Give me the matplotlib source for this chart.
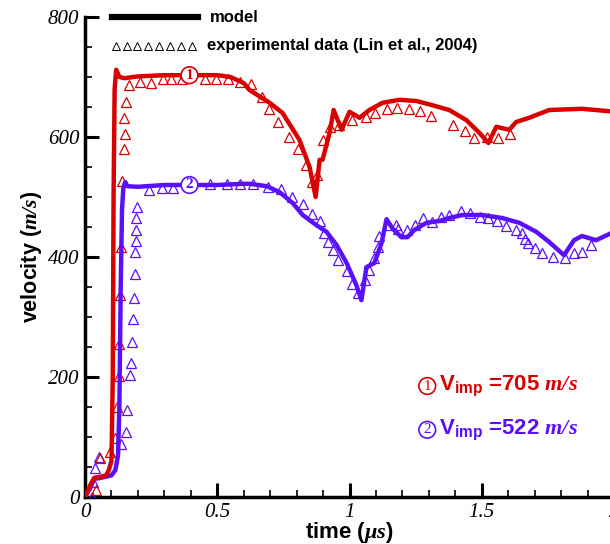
import matplotlib
matplotlib.use("Agg")
import matplotlib.pyplot as plt
from matplotlib.ticker import MultipleLocator

plt.rcParams['mathtext.fontset'] = 'custom'
plt.rcParams['mathtext.rm'] = 'Liberation Serif:italic:bold'
plt.rcParams['mathtext.it'] = 'Liberation Serif:italic:bold'
plt.rcParams['mathtext.bf'] = 'Liberation Sans:bold'
plt.rcParams['mathtext.default'] = 'it'

RED = '#D80000'
BLUE = '#5A10FF'

# model, case 1 (705 m/s)
t_model1 = [0, 0.02, 0.035, 0.06, 0.08, 0.09, 0.100, 0.105, 0.108, 0.112, 0.118, 0.13, 0.15,
            0.2, 0.3, 0.4, 0.5, 0.55, 0.6, 0.623, 0.698, 0.747, 0.811, 0.849, 0.872, 0.887,
            0.898, 0.925, 0.94, 0.97, 1.0, 1.038, 1.075, 1.125, 1.189, 1.253, 1.313, 1.377,
            1.442, 1.491, 1.525, 1.555, 1.604, 1.63, 1.679, 1.755, 1.879, 1.981, 2.0]
v_model1 = [0, 20, 32, 34, 36, 45, 60, 200, 500, 680, 712, 700, 698,
            701, 703, 703, 703, 700, 690, 678, 657, 640, 595, 550, 500, 562,
            562, 607, 645, 612, 642, 632, 645, 657, 662, 660, 653, 645,
            628, 607, 590, 617, 612, 625, 632, 645, 647, 643, 643]

# model, case 2 (522 m/s)
t_model2 = [0, 0.02, 0.035, 0.06, 0.1, 0.115, 0.125, 0.13, 0.135, 0.14, 0.145, 0.152, 0.16,
            0.2, 0.3, 0.4, 0.5, 0.6, 0.623, 0.687, 0.736, 0.785, 0.823, 0.875, 0.913, 0.951,
            0.989, 1.026, 1.045, 1.064, 1.094, 1.121, 1.14, 1.162, 1.196, 1.219, 1.245, 1.291,
            1.34, 1.377, 1.426, 1.502, 1.577, 1.642, 1.706, 1.755, 1.811, 1.849, 1.879, 1.932,
            1.981, 2.0]
v_model2 = [0, 15, 30, 32, 36, 45, 70, 150, 350, 480, 515, 525, 518,
            517, 520, 520, 520, 522, 522, 518, 508, 490, 470, 453, 442, 420,
            390, 353, 328, 383, 390, 423, 463, 448, 433, 433, 445, 457,
            460, 465, 470, 470, 465, 457, 442, 425, 403, 428, 435, 428,
            438, 442]

# experimental data, case 1
t_exp1 = [0.042, 0.057, 0.094, 0.113, 0.121, 0.128, 0.128, 0.132, 0.136, 0.140, 0.147, 0.151,
          0.147, 0.155, 0.166, 0.208, 0.249, 0.294, 0.325, 0.366, 0.453, 0.494, 0.540, 0.585,
          0.626, 0.668, 0.694, 0.728, 0.770, 0.804, 0.834, 0.857, 0.879, 0.898, 0.925, 0.962,
          1.011, 1.064, 1.098, 1.143, 1.181, 1.226, 1.268, 1.309, 1.392, 1.438, 1.472, 1.521,
          1.562, 1.608]
v_exp1 = [12, 65, 75, 98, 150, 202, 255, 337, 417, 527, 580, 605,
          632, 658, 686, 692, 690, 697, 697, 697, 697, 697, 697, 692,
          688, 667, 647, 625, 600, 580, 553, 525, 537, 595, 617, 620,
          628, 633, 640, 647, 648, 647, 643, 635, 620, 610, 598, 600,
          598, 605]

# experimental data, case 2
t_exp2 = [0.026, 0.030, 0.038, 0.053, 0.136, 0.155, 0.158, 0.170, 0.174, 0.177, 0.181, 0.185,
          0.189, 0.189, 0.192, 0.192, 0.192, 0.196, 0.242, 0.291, 0.332, 0.472, 0.536, 0.585,
          0.634, 0.691, 0.740, 0.781, 0.826, 0.857, 0.887, 0.902, 0.917, 0.936, 0.958, 0.989,
          1.008, 1.034, 1.057, 1.075, 1.094, 1.106, 1.113, 1.143, 1.177, 1.185, 1.219, 1.249,
          1.279, 1.313, 1.347, 1.377, 1.423, 1.457, 1.494, 1.525, 1.558, 1.592, 1.630, 1.653,
          1.664, 1.675, 1.702, 1.728, 1.770, 1.815, 1.849, 1.879, 1.913]
v_exp2 = [0, 25, 48, 67, 88, 108, 145, 203, 223, 258, 297, 332,
          372, 408, 427, 445, 465, 483, 512, 515, 515, 522, 522, 522,
          522, 517, 513, 500, 488, 472, 460, 440, 425, 412, 395, 377,
          355, 340, 362, 378, 398, 417, 435, 453, 453, 447, 445, 453,
          465, 458, 467, 470, 477, 473, 467, 465, 460, 452, 445, 440,
          430, 423, 415, 407, 400, 398, 407, 408, 420]

x_ticks = [0, 0.5, 1, 1.5, 2]
x_labels = ['0', '0.5', '1', '1.5', '2']
y_ticks = [0, 200, 400, 600, 800]
y_labels = ['0', '200', '400', '600', '800']

fig = plt.figure(figsize=(6.10, 5.44), dpi=100)
ax = fig.add_axes([85/610, 47/544, 529/610, 480/544])

tri = dict(marker='^', linestyle='none', markersize=7, markerfacecolor='none', markeredgewidth=0.9)
ax.plot(t_exp2, v_exp2, color=BLUE, **tri, zorder=3)
ax.plot(t_exp1, v_exp1, color=RED, **tri, zorder=3)
ax.plot(t_model2, v_model2, color=BLUE, lw=3.2, zorder=4, solid_joinstyle='round')
ax.plot(t_model1, v_model1, color=RED, lw=3.2, zorder=5, solid_joinstyle='round')

ax.set_xlim(0, 2)
ax.set_ylim(0, 800)
for s in ['top', 'right']:
    ax.spines[s].set_visible(False)
for s in ['left', 'bottom']:
    ax.spines[s].set_linewidth(2.5)
ax.set_xticks(x_ticks)
ax.set_xticklabels(x_labels)
ax.set_yticks(y_ticks)
ax.set_yticklabels(y_labels)
ax.xaxis.set_minor_locator(MultipleLocator(0.1))
ax.yaxis.set_minor_locator(MultipleLocator(50))
ax.tick_params(which='major', direction='in', length=10, width=2.2, pad=4)
ax.tick_params(which='minor', direction='in', length=5, width=1.2)
for lab in ax.get_xticklabels() + ax.get_yticklabels():
    lab.set_fontfamily('Liberation Serif')
    lab.set_fontstyle('italic')
    lab.set_fontsize(15)

ax.set_xlabel(r'time ($\mu s$)', fontsize=16, fontweight='bold',
              fontfamily='Liberation Sans', labelpad=-1)
ax.set_ylabel(r'velocity ($m/s$)', fontsize=15.5, fontweight='bold',
              fontfamily='Liberation Sans', labelpad=3)

# legend (drawn manually)
ax.plot([0.051, 0.214], [1.0, 1.0], transform=ax.transAxes, color='black', lw=4.5,
        clip_on=False, zorder=6)
ax.text(0.237, 1.0, 'model', transform=ax.transAxes, fontsize=12, fontweight='bold',
        fontfamily='Liberation Sans', va='center', ha='left')
leg_x = [0.058 + i * 0.0205 for i in range(8)]
ax.plot(leg_x, [0.940] * 8, transform=ax.transAxes, color='black', marker='^', linestyle='none',
        markersize=6, markerfacecolor='none', markeredgewidth=0.7, clip_on=False)
ax.text(0.231, 0.940, 'experimental data (Lin et al., 2004)', transform=ax.transAxes,
        fontsize=12, fontweight='bold', fontfamily='Liberation Sans', va='center', ha='left')

# circled labels on the curves
ax.text(0.395, 703, '1', color=RED, fontsize=11, fontfamily='Liberation Serif', fontweight='bold',
        ha='center', va='center', zorder=7,
        bbox=dict(boxstyle='circle,pad=0.12', fc='white', ec=RED, lw=1.2))
ax.text(0.395, 520, '2', color=BLUE, fontsize=11, fontfamily='Liberation Serif', fontweight='bold',
        ha='center', va='center', zorder=7,
        bbox=dict(boxstyle='circle,pad=0.12', fc='white', ec=BLUE, lw=1.2))

# annotation
ax.text(1.294, 185, '1', color=RED, fontsize=11, fontfamily='Liberation Serif',
        ha='center', va='center', bbox=dict(boxstyle='circle,pad=0.12', fc='white', ec=RED, lw=1.2))
ax.text(1.34, 185, r'V$_{\mathbf{imp}}$ =705 $m/s$', color=RED, fontsize=16,
        fontweight='bold', fontfamily='Liberation Sans', ha='left', va='center')
ax.text(1.294, 112, '2', color=BLUE, fontsize=11, fontfamily='Liberation Serif',
        ha='center', va='center', bbox=dict(boxstyle='circle,pad=0.12', fc='white', ec=BLUE, lw=1.2))
ax.text(1.34, 112, r'V$_{\mathbf{imp}}$ =522 $m/s$', color=BLUE, fontsize=16,
        fontweight='bold', fontfamily='Liberation Sans', ha='left', va='center')

fig.savefig('out.png', dpi=100)
